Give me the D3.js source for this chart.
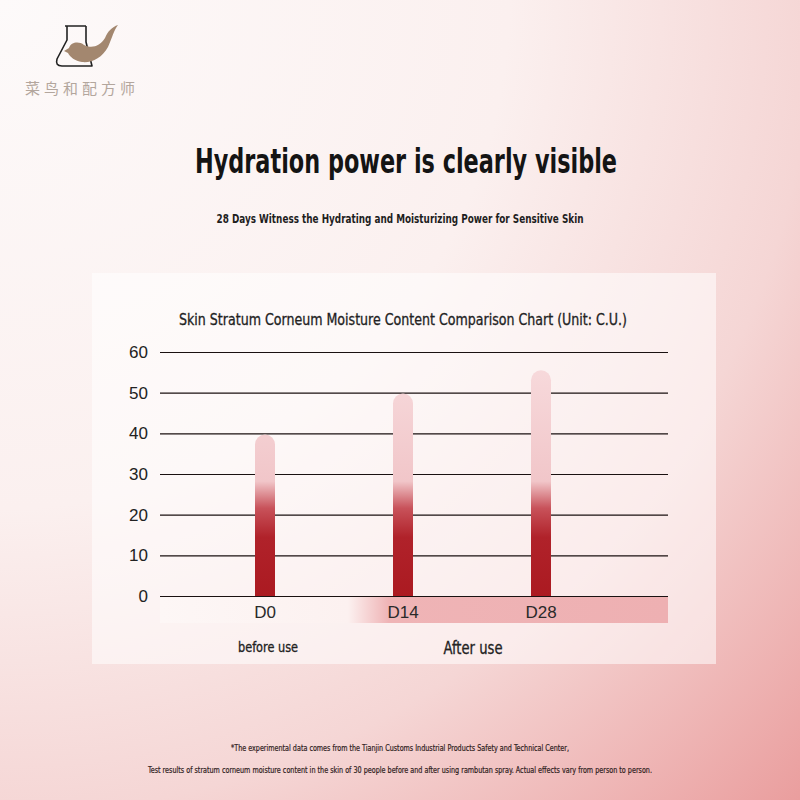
<!DOCTYPE html>
<html>
<head>
<meta charset="utf-8">
<script src="https://cdn.jsdelivr.net/npm/d3@7"></script>
<style>
  body { margin: 0; background: #fdf9f8; }
  svg { display: block; }
</style>
</head>
<body>
<script>
const W = 800, H = 800;

// data
const days = ["D0", "D14", "D28"];
const moisture = [39.7, 49.8, 55.5];
const yTicks = [0, 10, 20, 30, 40, 50, 60];
const groupLabels = ["before use", "After use"];
const footerLines = [
  "*The experimental data comes from the Tianjin Customs Industrial Products Safety and Technical Center,",
  "Test results of stratum corneum moisture content in the skin of 30 people before and after using rambutan spray. Actual effects vary from person to person."
];

const condensed = '"Liberation Sans Narrow", "DejaVu Sans Condensed", "Roboto Condensed", sans-serif';

const svg = d3.select("body").append("svg")
  .attr("width", W)
  .attr("height", H);

const defs = svg.append("defs");

// page background
const bg = defs.append("radialGradient").attr("id", "bg")
  .attr("gradientUnits", "userSpaceOnUse")
  .attr("cx", 0).attr("cy", 0).attr("r", 1130);
[[0, "#fdfafa"], [0.45, "#fbf0ef"], [0.72, "#f5d6d5"], [1, "#ea9e9e"]]
  .forEach(s => bg.append("stop").attr("offset", s[0]).attr("stop-color", s[1]));

svg.append("rect").attr("width", W).attr("height", H).attr("fill", "url(#bg)");

// logo
const logo = svg.append("g");
logo.append("path")
  .attr("d", "M65,26 H86 M67,26 V40 L57,59 Q55,66 62,66 H92 L86,42 V26")
  .attr("fill", "none").attr("stroke", "#222").attr("stroke-width", 1.6)
  .attr("stroke-linejoin", "round");
logo.append("path")
  .attr("d", "M64,51 L69,48 C71,42 79,41 84,45 C92,49 100,46 105,38 C108,31 112,27 118,25 C114,30 112,38 108,47 C102,58 92,63 82,62 C75,61 70,57 68,53 Z")
  .attr("fill", "#a3876f");
svg.append("text")
  .attr("x", 80).attr("y", 94)
  .attr("text-anchor", "middle")
  .attr("font-family", '"Noto Sans CJK SC", sans-serif')
  .attr("font-size", 15)
  .attr("fill", "#b3a69d")
  .attr("textLength", 110).attr("lengthAdjust", "spacing")
  .text("菜鸟和配方师");

// headings
svg.append("text")
  .attr("x", 406).attr("y", 173)
  .attr("text-anchor", "middle")
  .attr("font-family", condensed).attr("font-weight", "bold")
  .attr("font-size", 34).attr("fill", "#141414")
  .attr("textLength", 422).attr("lengthAdjust", "spacingAndGlyphs")
  .text("Hydration power is clearly visible");

svg.append("text")
  .attr("x", 400).attr("y", 223)
  .attr("text-anchor", "middle")
  .attr("font-family", condensed).attr("font-weight", "bold")
  .attr("font-size", 13).attr("fill", "#1e1e1e")
  .attr("textLength", 367).attr("lengthAdjust", "spacingAndGlyphs")
  .text("28 Days Witness the Hydrating and Moisturizing Power for Sensitive Skin");

// chart panel
svg.append("rect")
  .attr("x", 92).attr("y", 273).attr("width", 624).attr("height", 391)
  .attr("fill", "#ffffff").attr("fill-opacity", 0.55);

svg.append("text")
  .attr("x", 403).attr("y", 325)
  .attr("text-anchor", "middle")
  .attr("font-family", condensed)
  .attr("font-size", 16).attr("fill", "#222")
  .attr("stroke", "#222").attr("stroke-width", 0.3)
  .attr("textLength", 448).attr("lengthAdjust", "spacingAndGlyphs")
  .text("Skin Stratum Corneum Moisture Content Comparison Chart (Unit: C.U.)");

const plot = { left: 160, right: 668, top: 352, bottom: 596 };

const y = d3.scaleLinear().domain([0, 60]).range([plot.bottom, plot.top]);
const x = d3.scalePoint().domain(days).range([265, 541]);

// x band under axis
const band = defs.append("linearGradient").attr("id", "band")
  .attr("x1", 0).attr("x2", 1).attr("y1", 0).attr("y2", 0);
[[0, "#fdf7f6"], [0.37, "#fcf1f0"], [0.45, "#efb4b6"], [1, "#eeb0b2"]]
  .forEach(s => band.append("stop").attr("offset", s[0]).attr("stop-color", s[1]));

svg.append("rect")
  .attr("x", plot.left).attr("y", plot.bottom + 1)
  .attr("width", plot.right - plot.left).attr("height", 26)
  .attr("fill", "url(#band)");

// gridlines + y labels
const yAxis = svg.append("g")
  .attr("transform", `translate(${plot.left},0)`)
  .call(d3.axisLeft(y).tickValues(yTicks).tickSize(-(plot.right - plot.left)).tickPadding(12));
yAxis.select(".domain").remove();
yAxis.selectAll(".tick line").attr("stroke", "#1a1111").attr("stroke-width", 1.2);
yAxis.selectAll(".tick text")
  .attr("font-family", '"Liberation Sans", Arial, sans-serif')
  .attr("font-size", 17).attr("fill", "#222");

// bars
const barGrad = defs.append("linearGradient").attr("id", "barGrad")
  .attr("gradientUnits", "userSpaceOnUse")
  .attr("x1", 0).attr("x2", 0).attr("y1", y(0)).attr("y2", y(60));
[[0, "#ab1a21"], [0.24, "#b0222a"], [0.36, "#c8525a"], [0.47, "#f1c6c9"], [1, "#f8dcde"]]
  .forEach(s => barGrad.append("stop").attr("offset", s[0]).attr("stop-color", s[1]));

const barW = 20;
const bars = svg.append("g");
bars.selectAll("path").data(moisture).join("path")
  .attr("d", (d, i) => {
    const cx = x(days[i]), top = y(d), r = barW / 2;
    return `M${cx - r},${y(0)} V${top + r} A${r},${r} 0 0 1 ${cx + r},${top + r} V${y(0)} Z`;
  })
  .attr("fill", "url(#barGrad)");

// day labels
svg.append("g").selectAll("text").data(days).join("text")
  .attr("x", d => x(d)).attr("y", 618)
  .attr("text-anchor", "middle")
  .attr("font-family", '"Liberation Sans", sans-serif')
  .attr("font-size", 17).attr("fill", "#2a2a2a")
  .text(d => d);

// group labels
svg.append("text")
  .attr("x", 268).attr("y", 652)
  .attr("text-anchor", "middle")
  .attr("font-family", condensed)
  .attr("font-size", 14).attr("fill", "#222")
  .attr("stroke", "#222").attr("stroke-width", 0.3)
  .attr("textLength", 60).attr("lengthAdjust", "spacingAndGlyphs")
  .text(groupLabels[0]);
svg.append("text")
  .attr("x", 473).attr("y", 654)
  .attr("text-anchor", "middle")
  .attr("font-family", condensed)
  .attr("font-size", 17).attr("fill", "#222")
  .attr("stroke", "#222").attr("stroke-width", 0.3)
  .attr("textLength", 59).attr("lengthAdjust", "spacingAndGlyphs")
  .text(groupLabels[1]);

// footer
svg.append("g").selectAll("text").data(footerLines).join("text")
  .attr("x", 400).attr("y", (d, i) => 751 + i * 22)
  .attr("text-anchor", "middle")
  .attr("font-family", condensed)
  .attr("font-size", 9).attr("fill", "#2e2020")
  .attr("stroke", "#2e2020").attr("stroke-width", 0.2)
  .attr("textLength", (d, i) => i === 0 ? 338 : 504)
  .attr("lengthAdjust", "spacingAndGlyphs")
  .text(d => d);
</script>
</body>
</html>
